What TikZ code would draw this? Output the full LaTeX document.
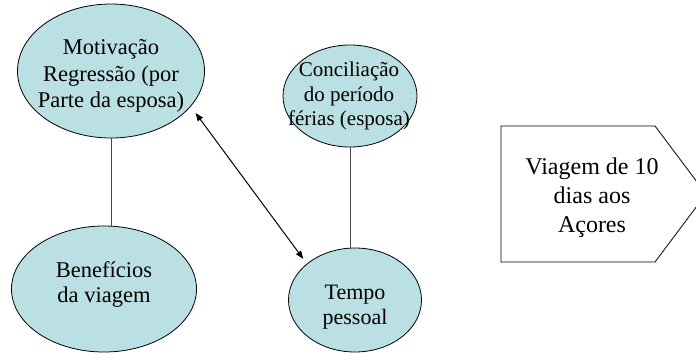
\documentclass[tikz,border=0pt]{standalone}
\usepackage{fontspec}
\setmainfont{Liberation Serif}
\usetikzlibrary{shapes.geometric,arrows.meta}
\definecolor{bub}{RGB}{187,224,227}
\definecolor{lin}{RGB}{70,70,70}
\tikzset{
  bubble/.style={ellipse,draw=black,line width=0.8pt,fill=bub,inner sep=0pt},
  txt/.style={align=center,inner sep=0pt,text=black},
  plainline/.style={draw=lin,line width=1pt},
  dbl/.style={draw=black,line width=1pt,{Triangle[length=8pt,width=6pt]}-{Triangle[length=8pt,width=6pt]}}
}
\begin{document}
\begin{tikzpicture}[x=1pt,y=-1pt]
\useasboundingbox (0,0) rectangle (696,362);
\clip (0,0) rectangle (696,362);
\node[bubble,minimum width=187pt,minimum height=134pt] (mot) at (111,71) {};
\node[txt,font=\fontsize{22.5}{26.5}\selectfont] (mottxt) at (111,76) {Motivação\\Regressão (por\\Parte da esposa)};
\node[bubble,minimum width=185pt,minimum height=126pt] (ben) at (104,289) {};
\node[txt,font=\fontsize{22.5}{25}\selectfont] (bentxt) at (104,285) {Benefícios\\da viagem};
\node[bubble,minimum width=134pt,minimum height=102pt] (con) at (350,96) {};
\node[txt,font=\fontsize{21}{24.5}\selectfont] (contxt) at (349,96) {Conciliação\\do período\\férias (esposa)};
\node[bubble,minimum width=133pt,minimum height=104pt] (tem) at (355,300) {};
\node[txt,font=\fontsize{22}{25}\selectfont] (temtxt) at (355,307) {Tempo\\pessoal};
\draw[fill=white,draw=black,line width=0.8pt] (501,126) -- (655,126) -- (706,194) -- (655,262) -- (501,262) -- cycle;
\node[txt,font=\fontsize{24}{29}\selectfont] (via) at (592,197.5) {Viagem de 10\\dias aos\\Açores};
\path[plainline] (mot.south) -- (mot.south |- ben.north);
\path[plainline] (con.south) -- (con.south |- tem.north);
\path[dbl,shorten <=8pt,shorten >=6pt] (mot.-24) -- (tem.143);
\end{tikzpicture}
\end{document}
